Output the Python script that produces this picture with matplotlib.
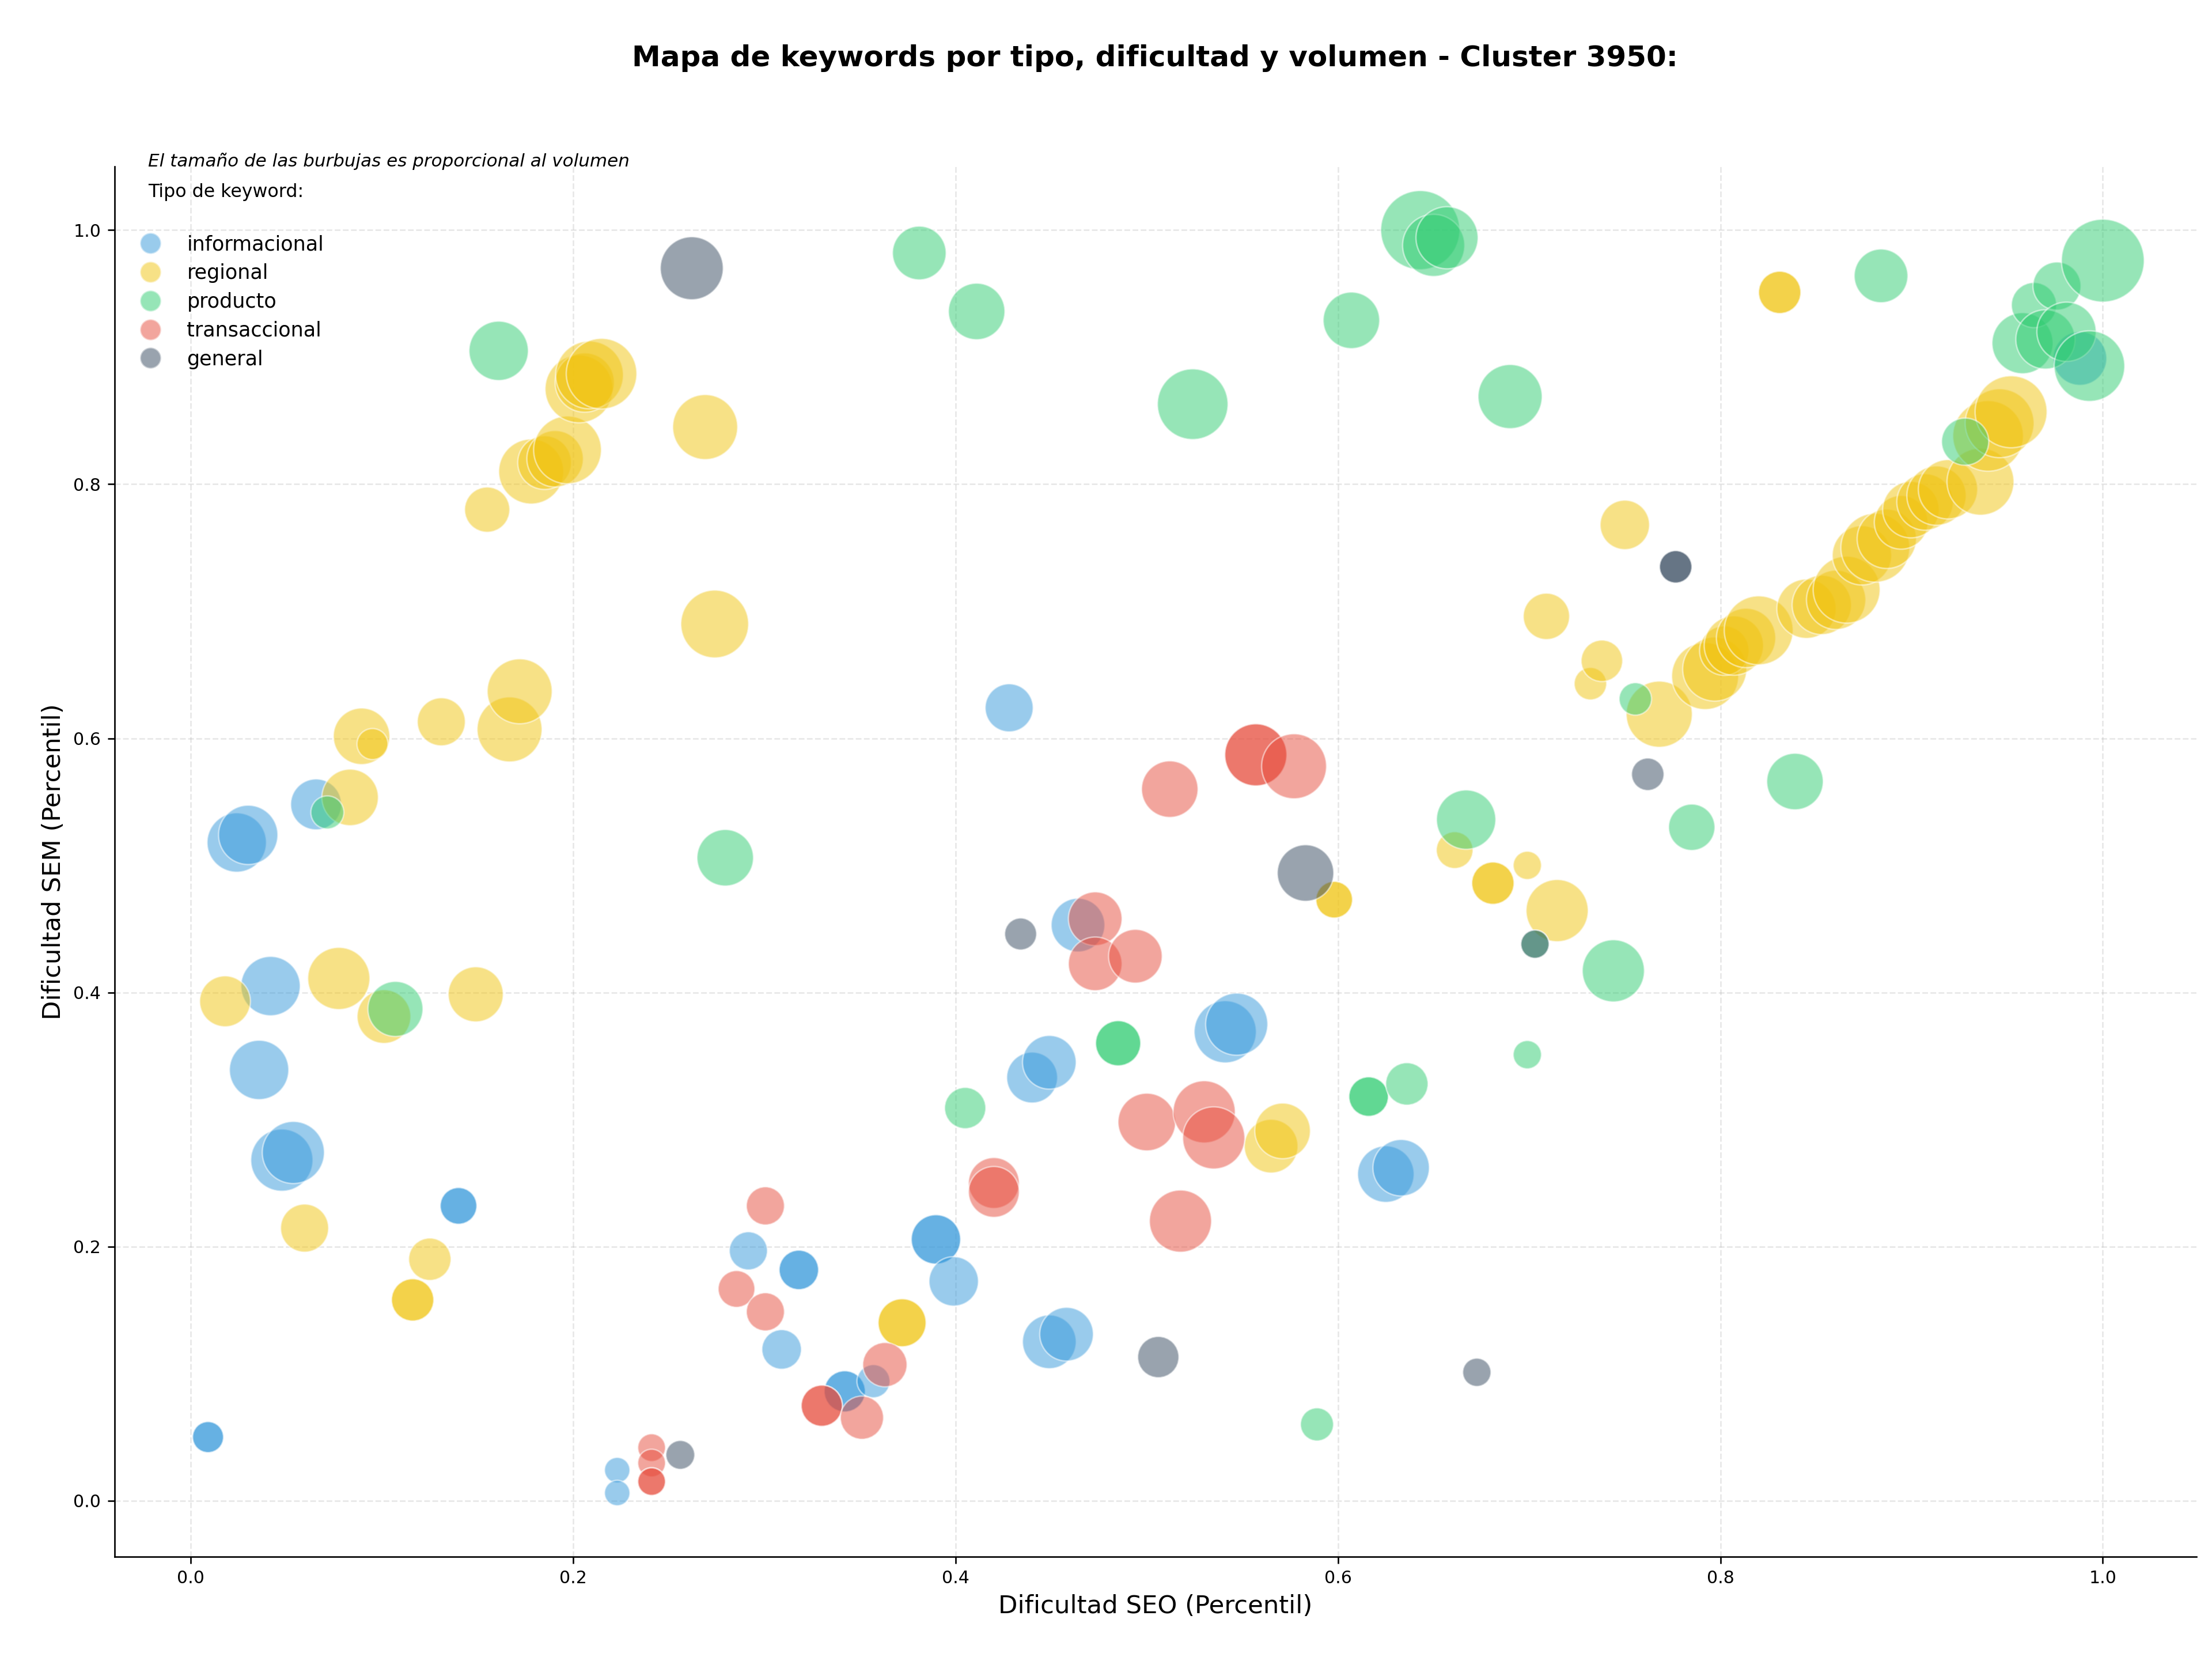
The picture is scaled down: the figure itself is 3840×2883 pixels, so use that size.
import numpy as np
import matplotlib.pyplot as plt
from matplotlib.lines import Line2D

# --- datos: dificultad SEO (x), dificultad SEM (y), volumen ---
tipos = ['informacional', 'regional', 'producto', 'transaccional', 'general']
colores = ['#3498db', '#f1c40f', '#2ecc71', '#e74c3c', '#34495e']

info_x = [0.009, 0.009, 0.024, 0.030, 0.0655, 0.0417, 0.0357, 0.0476, 0.0536, 0.140, 0.140,
          0.223, 0.223, 0.2916, 0.309, 0.318, 0.318, 0.342, 0.342, 0.357, 0.3897, 0.3897,
          0.399, 0.428, 0.440, 0.449, 0.464, 0.449, 0.458, 0.541, 0.547, 0.625, 0.633, 0.988]
info_y = [0.050, 0.050, 0.518, 0.524, 0.548, 0.405, 0.339, 0.268, 0.274, 0.232, 0.232,
          0.024, 0.006, 0.1966, 0.119, 0.1816, 0.1816, 0.086, 0.086, 0.094, 0.2056, 0.2056,
          0.1726, 0.624, 0.333, 0.345, 0.453, 0.125, 0.131, 0.369, 0.375, 0.257, 0.262, 0.899]
info_vol = [1210, 1210, 4410, 4410, 3240, 4410, 4410, 4840, 4840, 1690, 1690,
            810, 810, 1820, 1960, 1960, 1960, 2130, 2130, 1370, 3060, 3060,
            3060, 2890, 3240, 3610, 3610, 3610, 3610, 4840, 4840, 4000, 4000, 3610]

reg_x = [0.0179, 0.0595, 0.0774, 0.0833, 0.0893, 0.095, 0.101, 0.116, 0.116, 0.125, 0.131,
         0.149, 0.155, 0.1667, 0.172, 0.178, 0.185, 0.1905, 0.197, 0.203, 0.206, 0.2085,
         0.2148, 0.269, 0.274, 0.372, 0.372, 0.565, 0.571, 0.598, 0.598, 0.661, 0.681, 0.681,
         0.699, 0.7146, 0.709, 0.732, 0.738, 0.750, 0.768, 0.792, 0.797, 0.802, 0.807, 0.8134,
         0.820, 0.831, 0.831, 0.845, 0.853, 0.8605, 0.866, 0.874, 0.881, 0.887, 0.8945, 0.8996,
         0.907, 0.913, 0.919, 0.936, 0.940, 0.946, 0.952]
reg_y = [0.393, 0.2145, 0.411, 0.5535, 0.6016, 0.5955, 0.381, 0.158, 0.158, 0.190, 0.613,
         0.3985, 0.780, 0.607, 0.637, 0.810, 0.817, 0.820, 0.827, 0.875, 0.880, 0.886,
         0.887, 0.845, 0.690, 0.140, 0.140, 0.279, 0.291, 0.473, 0.473, 0.512, 0.486, 0.486,
         0.500, 0.4644, 0.696, 0.643, 0.661, 0.768, 0.619, 0.649, 0.6545, 0.669, 0.673, 0.679,
         0.685, 0.951, 0.951, 0.702, 0.705, 0.709, 0.717, 0.744, 0.750, 0.757, 0.770, 0.780,
         0.786, 0.791, 0.796, 0.802, 0.838, 0.848, 0.857]
reg_vol = [3240, 2890, 4840, 4000, 4000, 1210, 3610, 2250, 2250, 2250, 2890,
           3800, 2560, 5290, 5290, 5290, 3610, 4000, 5760, 5760, 4410, 5760,
           6250, 5290, 5760, 2890, 2890, 3610, 3880, 1690, 1690, 1690, 2250, 2250,
           1000, 4840, 2690, 1320, 2160, 3060, 5480, 5620, 5150, 3060, 4410, 4410,
           5950, 2250, 2250, 4410, 4410, 4410, 5620, 4410, 5950, 4410, 3610, 4000,
           4000, 4410, 4410, 5620, 6250, 5950, 6500]

prod_x = [0.0714, 0.107, 0.161, 0.2795, 0.381, 0.405, 0.411, 0.485, 0.485, 0.524, 0.589,
          0.607, 0.616, 0.616, 0.636, 0.643, 0.650, 0.657, 0.667, 0.690, 0.699, 0.703,
          0.744, 0.7555, 0.785, 0.839, 0.884, 0.928, 0.958, 0.964, 0.970, 0.976, 0.981,
          0.993, 1.000]
prod_y = [0.5417, 0.387, 0.905, 0.506, 0.982, 0.309, 0.936, 0.360, 0.360, 0.863, 0.060,
          0.929, 0.318, 0.318, 0.328, 1.000, 0.988, 0.994, 0.536, 0.869, 0.351, 0.438,
          0.417, 0.631, 0.530, 0.566, 0.964, 0.8335, 0.911, 0.941, 0.914, 0.956, 0.920,
          0.893, 0.976]
prod_vol = [1370, 3800, 4410, 4000, 3610, 2130, 4000, 2560, 2560, 6250, 1370,
            4000, 1960, 1960, 2250, 7840, 4840, 4840, 4410, 5150, 1000, 1000,
            4840, 1320, 2690, 4000, 3610, 2790, 4670, 2560, 4410, 2890, 4410,
            6250, 8600]

trans_x = [0.241, 0.241, 0.241, 0.241, 0.2854, 0.3005, 0.3005, 0.330, 0.330, 0.351, 0.363,
           0.420, 0.420, 0.473, 0.473, 0.494, 0.500, 0.512, 0.5176, 0.530, 0.535, 0.557,
           0.557, 0.577]
trans_y = [0.0417, 0.0296, 0.015, 0.015, 0.1666, 0.232, 0.1486, 0.0747, 0.0747, 0.0653, 0.107,
           0.250, 0.243, 0.458, 0.4225, 0.4285, 0.298, 0.560, 0.220, 0.306, 0.2855, 0.587,
           0.587, 0.578]
trans_vol = [960, 960, 960, 960, 1690, 1820, 1820, 2130, 2130, 2340, 2460,
             3240, 3240, 3610, 3610, 3610, 4160, 4000, 4840, 4840, 4840, 4840,
             4840, 5290]

gen_x = [0.256, 0.262, 0.434, 0.506, 0.583, 0.6726, 0.703, 0.762, 0.7766, 0.7766]
gen_y = [0.036, 0.970, 0.446, 0.113, 0.494, 0.101, 0.438, 0.5717, 0.735, 0.735]
gen_vol = [1040, 4970, 1280, 2130, 4000, 1000, 1000, 1320, 1320, 1320]

series = [(info_x, info_y, info_vol), (reg_x, reg_y, reg_vol), (prod_x, prod_y, prod_vol),
          (trans_x, trans_y, trans_vol), (gen_x, gen_y, gen_vol)]

# --- figura ---
fig = plt.figure(figsize=(16, 12.0125), dpi=240)
ax = fig.add_axes([0.0517, 0.0629, 0.9413, 0.8368])

for (xs, ys, vs), tipo, col in zip(series, tipos, colores):
    ax.scatter(xs, ys, s=np.array(vs) * 0.216, color=col, alpha=0.5,
               edgecolors='white', linewidths=0.8, label=tipo, zorder=3)

ax.set_xlim(-0.04, 1.049)
ax.set_ylim(-0.044, 1.05)
ax.set_xticks(np.arange(0, 1.01, 0.2))
ax.set_yticks(np.arange(0, 1.01, 0.2))
ax.tick_params(labelsize=9)
ax.grid(True, linestyle='--', alpha=0.3)
ax.spines['top'].set_visible(False)
ax.spines['right'].set_visible(False)

ax.set_xlabel('Dificultad SEO (Percentil)', fontsize=13)
ax.set_ylabel('Dificultad SEM (Percentil)', fontsize=13)

fig.text(0.522, 0.965, 'Mapa de keywords por tipo, dificultad y volumen - Cluster 3950:',
         ha='center', va='center', fontsize=15, fontweight='bold')
ax.text(0.0163, 1.004, 'El tamaño de las burbujas es proporcional al volumen',
        transform=ax.transAxes, fontsize=9.3, style='italic', va='center', ha='left')
ax.text(0.0163, 0.9817, 'Tipo de keyword:', transform=ax.transAxes,
        fontsize=9.5, va='center', ha='left')

handles = [Line2D([0], [0], marker='o', linestyle='none', markersize=11,
                  markerfacecolor=c, markeredgecolor='white', alpha=0.5) for c in colores]
ax.legend(handles, tipos, loc='upper left', bbox_to_anchor=(-0.001, 0.964),
          frameon=False, fontsize=10.5, labelspacing=0.45)

fig.savefig('out.png', dpi=240)
